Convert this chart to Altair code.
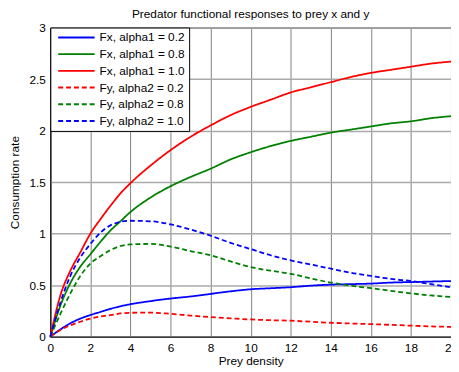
import altair as alt
import pandas as pd

# Prey density sample points
x_vals = [0, 0.5, 1, 1.5, 2, 2.5, 3, 3.5, 4, 5, 6, 7, 8, 9, 10,
          11, 12, 13, 14, 15, 16, 17, 18, 19, 20]

# Consumption rates
fx_a1_02 = [0, 0.07, 0.13, 0.175, 0.21, 0.24, 0.27, 0.295, 0.315, 0.345, 0.37, 0.39, 0.415,
            0.44, 0.46, 0.47, 0.48, 0.495, 0.505, 0.51, 0.515, 0.525, 0.53, 0.535, 0.54]
fx_a1_08 = [0, 0.30, 0.52, 0.68, 0.80, 0.92, 1.03, 1.12, 1.21, 1.35, 1.46, 1.55, 1.63,
            1.72, 1.79, 1.85, 1.90, 1.94, 1.98, 2.01, 2.04, 2.07, 2.09, 2.12, 2.14]
fx_a1_10 = [0, 0.40, 0.64, 0.82, 1.00, 1.14, 1.27, 1.39, 1.49, 1.66, 1.81, 1.94, 2.05,
            2.15, 2.23, 2.30, 2.37, 2.42, 2.47, 2.52, 2.56, 2.59, 2.62, 2.65, 2.67]
fy_a2_02 = [0, 0.065, 0.11, 0.145, 0.175, 0.195, 0.21, 0.225, 0.232, 0.233, 0.222, 0.205, 0.19,
            0.178, 0.167, 0.16, 0.155, 0.145, 0.135, 0.128, 0.122, 0.115, 0.107, 0.10, 0.095]
fy_a2_08 = [0, 0.22, 0.42, 0.59, 0.71, 0.78, 0.84, 0.88, 0.895, 0.90, 0.875, 0.83, 0.79,
            0.73, 0.675, 0.64, 0.61, 0.565, 0.525, 0.495, 0.47, 0.445, 0.42, 0.40, 0.385]
fy_a2_10 = [0, 0.33, 0.59, 0.77, 0.90, 1.01, 1.08, 1.115, 1.125, 1.12, 1.09, 1.04, 0.98,
            0.91, 0.85, 0.79, 0.74, 0.70, 0.66, 0.62, 0.59, 0.56, 0.54, 0.51, 0.48]

series_names = ["Fx, alpha1 = 0.2", "Fx, alpha1 = 0.8", "Fx, alpha1 = 1.0",
                "Fy, alpha2 = 0.2", "Fy, alpha2 = 0.8", "Fy, alpha2 = 1.0"]
series_values = [fx_a1_02, fx_a1_08, fx_a1_10, fy_a2_02, fy_a2_08, fy_a2_10]
series_colors = ["#0000ff", "#008000", "#ff0000", "#ff0000", "#008000", "#0000ff"]
series_dashes = [[1, 0], [1, 0], [1, 0], [5, 3], [5, 3], [5, 3]]

x_ticks = [0, 2, 4, 6, 8, 10, 12, 14, 16, 18, 20]
y_ticks = [0, 0.5, 1, 1.5, 2, 2.5, 3]

rows = []
for order, (name, vals) in enumerate(zip(series_names, series_values)):
    for xv, yv in zip(x_vals, vals):
        rows.append({"series": name, "x": xv, "y": yv, "order": order})
df = pd.DataFrame(rows)

FONT = "Liberation Sans"

legend = alt.Legend(
    title=None,
    orient="none",
    legendX=0,
    legendY=0,
    symbolType="M-4,0H4",
    symbolSize=85.6,
    symbolStrokeWidth=2,
    symbolOffset=16.5,
    labelFont=FONT,
    labelFontSize=12,
    labelColor="#000",
    labelOffset=17.5,
    padding=4,
    rowPadding=5,
    fillColor="white",
    strokeColor="black",
)

chart = alt.Chart(df).mark_line(strokeWidth=1.8, interpolate="monotone").encode(
    x=alt.X("x:Q", scale=alt.Scale(domain=[0, 20], nice=False, zero=False),
            axis=alt.Axis(values=x_ticks, title="Prey density", format="~g",
                          labelFlush=False, labelPadding=6,
                          titleY=24, titleBaseline="middle")),
    y=alt.Y("y:Q", scale=alt.Scale(domain=[0, 3], nice=False),
            axis=alt.Axis(values=y_ticks, title="Consumption rate", format="~g",
                          labelPadding=5,
                          titleX=-36, titleBaseline="middle")),
    color=alt.Color("series:N", scale=alt.Scale(domain=series_names, range=series_colors),
                    legend=legend),
    strokeDash=alt.StrokeDash("series:N", scale=alt.Scale(domain=series_names, range=series_dashes),
                              legend=legend),
    order="order:Q",
).properties(
    width=407,
    height=314,
    title=alt.Title("Predator functional responses to prey x and y",
                    font=FONT, fontSize=12, fontWeight="normal", color="#000",
                    offset=1),
    autosize=alt.AutoSizeParams(type="none"),
    padding={"left": 43, "top": 17, "right": 0, "bottom": 31},
).configure_view(
    stroke="black", strokeWidth=1
).configure_axis(
    labelFont=FONT, labelFontSize=12, labelColor="#000",
    titleFont=FONT, titleFontSize=12, titleFontWeight="normal", titleColor="#000",
    ticks=False, tickSize=0,
    domainColor="black", domainWidth=1,
    gridColor="#808080", gridWidth=1, gridOpacity=1,
).configure_axisY(
    gridColor="#aaaaaa", gridWidth=1.5
)

chart.save("out.html", embed_options={"renderer": "svg", "actions": False})
